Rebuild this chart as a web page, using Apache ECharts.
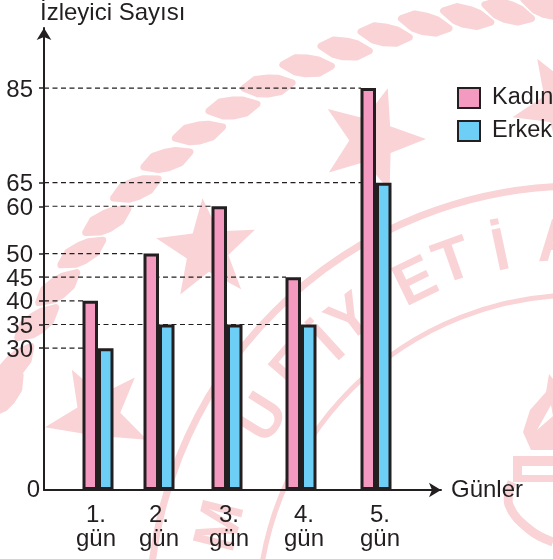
<!DOCTYPE html>
<html>
<head>
<meta charset="utf-8">
<style>
  html, body { margin: 0; padding: 0; background: #fff; }
  #chart { width: 553px; height: 559px; }
</style>
<script src="https://cdn.jsdelivr.net/npm/echarts@6/dist/echarts.min.js"></script>
</head>
<body>
<div id="chart"></div>
<script>
// values
const dayLabels = ['1.\ngün', '2.\ngün', '3.\ngün', '4.\ngün', '5.\ngün'];
const dayX = [54, 115, 183, 257, 332];       // days are not evenly spaced on the axis
const dayLabelX = [52, 115, 185, 260, 336];
const kadin = [40, 50, 60, 45, 85];
const erkek = [30, 35, 35, 35, 65];
const yTicks = [30, 35, 40, 45, 50, 60, 65, 85];
const guideEnds = [39, 257, 39, 242, 100, 168, 317, 317];

const ink = '#231f20';
const stamp = '#f9d3d5';
const font = '"Liberation Sans", Arial, sans-serif';

function starPoints(cx, cy, R, rotDeg) {
  const pts = [];
  for (let i = 0; i < 10; i++) {
    const a = (rotDeg + i * 36) * Math.PI / 180;
    const r = i % 2 ? R * 0.42 : R;
    pts.push([cx + r * Math.sin(a), cy - r * Math.cos(a)]);
  }
  return pts;
}

// pale seal behind the chart
const sealX = 578, sealY = 615;
const petalShape = [[-24, 3], [-13, -6], [0, -8], [10, -8], [24, -4], [13, 5], [0, 8], [-10, 8]];
const petals = [
  [547, 7, 25], [508, 12, 25], [467, 17, 22], [425, 24, 20], [385, 35, 15], [345, 49, 14], [307, 66, 10],
  [268, 86, 2], [233, 108, 0], [199, 133, -5], [167, 160, -10], [136, 189, -15], [107, 221, -21],
  [82, 253, -22], [58, 288, -30], [37, 323, -30], [15, 365, -40], [6, 395, -45]
];
const sealLetters = [
  ['A', 3, 372], ['İ', 12, 370], ['T', 19.5, 373], ['E', 26, 369], ['Y', 37.5, 372],
  ['İ', 42.5, 366], ['F', 49, 374], ['U', 58, 370], ['M', 76, 367]
];

const sealElements = [
  { type: 'circle', shape: { cx: sealX, cy: sealY, r: 429 }, style: { fill: 'none', stroke: stamp, lineWidth: 7 } },
  { type: 'circle', shape: { cx: sealX, cy: sealY, r: 320 }, style: { fill: 'none', stroke: stamp, lineWidth: 5 } },
  { type: 'polygon', shape: { points: starPoints(372, 140, 54, 17) }, style: { fill: stamp } },
  { type: 'polygon', shape: { points: starPoints(207, 250, 52, -5) }, style: { fill: stamp } },
  { type: 'polygon', shape: { points: starPoints(98, 417, 54, -29) }, style: { fill: stamp } },
  { type: 'polygon', shape: { points: starPoints(565, 105, 54, -31) }, style: { fill: stamp } },
  // torch
  { type: 'polygon', shape: { points: [[549, 374], [546, 392], [530, 410], [523, 432], [531, 450], [570, 450], [570, 400]] }, style: { fill: stamp } },
  { type: 'polygon', shape: { points: [[551, 405], [537, 430], [553, 416]] }, style: { fill: '#fff' } },
  { type: 'rect', shape: { x: 513, y: 456, width: 40, height: 26 }, style: { fill: stamp } },
  { type: 'rect', shape: { x: 522, y: 466, width: 31, height: 9 }, style: { fill: '#fff' } },
  { type: 'polyline', shape: { points: [[512, 482], [509, 505], [530, 530], [553, 542]], smooth: 0.4 }, style: { fill: 'none', stroke: stamp, lineWidth: 9 } }
];
petals.forEach(p => sealElements.push({
  type: 'polygon', x: p[0], y: p[1], rotation: -p[2] * Math.PI / 180,
  shape: { points: petalShape }, style: { fill: stamp, stroke: stamp, lineWidth: 7, lineJoin: 'round' }
}));
sealLetters.forEach(l => {
  const a = l[1] * Math.PI / 180;
  sealElements.push({
    type: 'text', x: sealX - l[2] * Math.sin(a), y: sealY - l[2] * Math.cos(a), rotation: a,
    style: { text: l[0], fill: stamp, font: 'bold 60px ' + font, textAlign: 'center', textVerticalAlign: 'middle', verticalAlign: 'middle' }
  });
});
sealElements.forEach(el => { el.silent = true; el.z = -10; });

const barStyle = color => ({ color: color, borderColor: ink, borderWidth: 3 });

const chart = echarts.init(document.getElementById('chart'), null, { renderer: 'canvas' });

chart.setOption({
  animation: false,
  backgroundColor: '#fff',
  textStyle: { fontFamily: font },
  title: {
    text: 'İzleyici Sayısı',
    left: 40,
    top: 1,
    padding: 0,
    textStyle: { color: ink, fontSize: 24, fontWeight: 'normal', fontFamily: font }
  },
  legend: {
    data: ['Kadın', 'Erkek'],
    orient: 'vertical',
    left: 457,
    top: 86,
    padding: 0,
    itemWidth: 22,
    itemHeight: 20,
    itemGap: 9,
    icon: 'rect',
    selectedMode: false,
    textStyle: { color: ink, fontSize: 23.5, fontFamily: font, padding: [0, 0, 0, 7] }
  },
  grid: { left: 44, top: 28, width: 397, height: 462 },
  graphic: { elements: sealElements },
  xAxis: {
    type: 'value',
    min: 0,
    max: 397,
    name: 'Günler',
    nameGap: 10,
    nameTextStyle: { color: ink, fontSize: 24, fontFamily: font, padding: [4, 0, 0, 0] },
    splitLine: { show: false },
    axisTick: { show: false },
    axisLine: { symbol: ['none', 'arrow'], symbolSize: [11, 12], lineStyle: { color: ink, width: 2 } },
    axisLabel: {
      customValues: dayLabelX,
      formatter: value => dayLabels[dayLabelX.indexOf(value)],
      margin: 13,
      color: ink,
      fontSize: 24,
      lineHeight: 24,
      fontFamily: font
    }
  },
  yAxis: {
    type: 'value',
    min: 0,
    max: 97.7,
    splitLine: { show: false },
    axisLine: { show: true, symbol: ['none', 'arrow'], symbolSize: [11, 12], lineStyle: { color: ink, width: 2 } },
    axisTick: { show: true, customValues: yTicks, length: 5, lineStyle: { color: ink, width: 1.5 } },
    axisLabel: {
      customValues: [0].concat(yTicks),
      margin: 4,
      color: ink,
      fontSize: 24,
      fontFamily: font,
      formatter: value => value === 0 ? '{z|0}' : '{n|' + value + '}',
      rich: {
        z: { color: ink, fontSize: 24, fontFamily: font },
        n: { color: ink, fontSize: 24, fontFamily: font, padding: [4, 7, 0, 0] }
      }
    }
  },
  series: yTicks.map((v, i) => ({
    name: 'guide' + v,
    type: 'line',
    z: 1,
    silent: true,
    showSymbol: false,
    data: [[0, v], [guideEnds[i], v]],
    lineStyle: { color: ink, width: 1.2, type: [5, 3.5] }
  })).concat([
    {
      name: 'Kadın',
      type: 'bar',
      z: 3,
      barWidth: 15.5,
      barGap: 0,
      itemStyle: barStyle('#f49ac1'),
      data: dayX.map((x, i) => [x, kadin[i]])
    },
    {
      name: 'Erkek',
      type: 'bar',
      z: 3,
      barWidth: 15.5,
      barGap: 0,
      itemStyle: barStyle('#6dcff6'),
      data: dayX.map((x, i) => [x, erkek[i]])
    }
  ])
});

window.addEventListener('resize', () => chart.resize());
</script>
</body>
</html>
